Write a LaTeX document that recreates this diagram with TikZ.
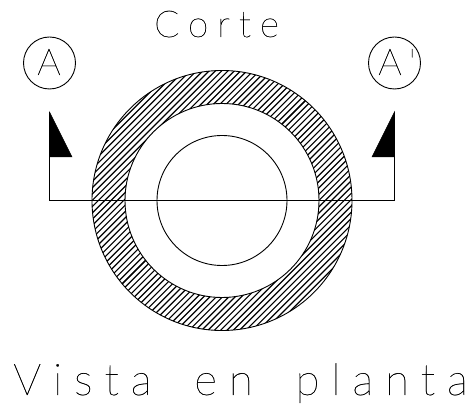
\documentclass[tikz,border=0pt]{standalone}
\usepackage{fontspec}
\setmainfont{Lato Hairline}
\newfontfamily\cadS[LetterSpace=24,FakeBold=0.5]{Lato Hairline}
\newfontfamily\cadL[LetterSpace=27,WordSpace=1.75,FakeBold=0.5]{Lato Hairline}
\tikzset{
  thinline/.style={line width=0.9pt,black},
  marker/.style={circle,draw,line width=0.9pt,minimum size=52pt,inner sep=0pt},
  tipfill/.style={fill=black,draw=black,line width=0.5pt},
  hatchline/.style={line width=1.15pt,black},
  cadtext/.style={inner sep=0pt,anchor=base west},
}
\begin{document}
\begin{tikzpicture}[x=1pt,y=-1pt]
\useasboundingbox (0,0) rectangle (467,406);
\coordinate (c) at (222,200.5);
% hatched ring
\begin{scope}[even odd rule]
  \clip (c) circle[radius=130] (c) circle[radius=97];
  \foreach \k in {0,...,90}{
    \draw[hatchline] (0+\k*6.3,406) -- ++(406,-406);
    \draw[hatchline] (0-\k*6.3,406) -- ++(406,-406);
  }
\end{scope}
\draw[thinline] (c) circle[radius=130];
\draw[thinline] (c) circle[radius=97];
\draw[thinline] (c) circle[radius=65];
% section line
\coordinate (lt) at (49.5,112);
\coordinate (lb) at (49.5,200);
\coordinate (rb) at (394.5,200);
\coordinate (rt) at (394.5,112);
\draw[thinline] (lt) -- (lb) -- (rb) -- (rt);
\filldraw[tipfill] (lt) -- (49.5,157) -- (72,157) -- cycle;
\filldraw[tipfill] (rt) -- (394.5,157) -- (372,157) -- cycle;
\node[marker] (ma) at (49.5,63) {};
\node[marker] (mb) at (394.5,63) {};
\node[cadtext,font=\cadS\fontsize{37}{37}\selectfont] (ta) at (37,75) {A};
\node[cadtext,font=\cadS\fontsize{37}{37}\selectfont] (tb) at (378,75) {A'};
\node[cadtext,font=\cadS\fontsize{37}{37}\selectfont] (corte) at (154,37) {Corte};
\node[cadtext,font=\cadL\fontsize{44}{44}\selectfont] (vista) at (13,395) {Vista en planta};
\end{tikzpicture}
\end{document}
